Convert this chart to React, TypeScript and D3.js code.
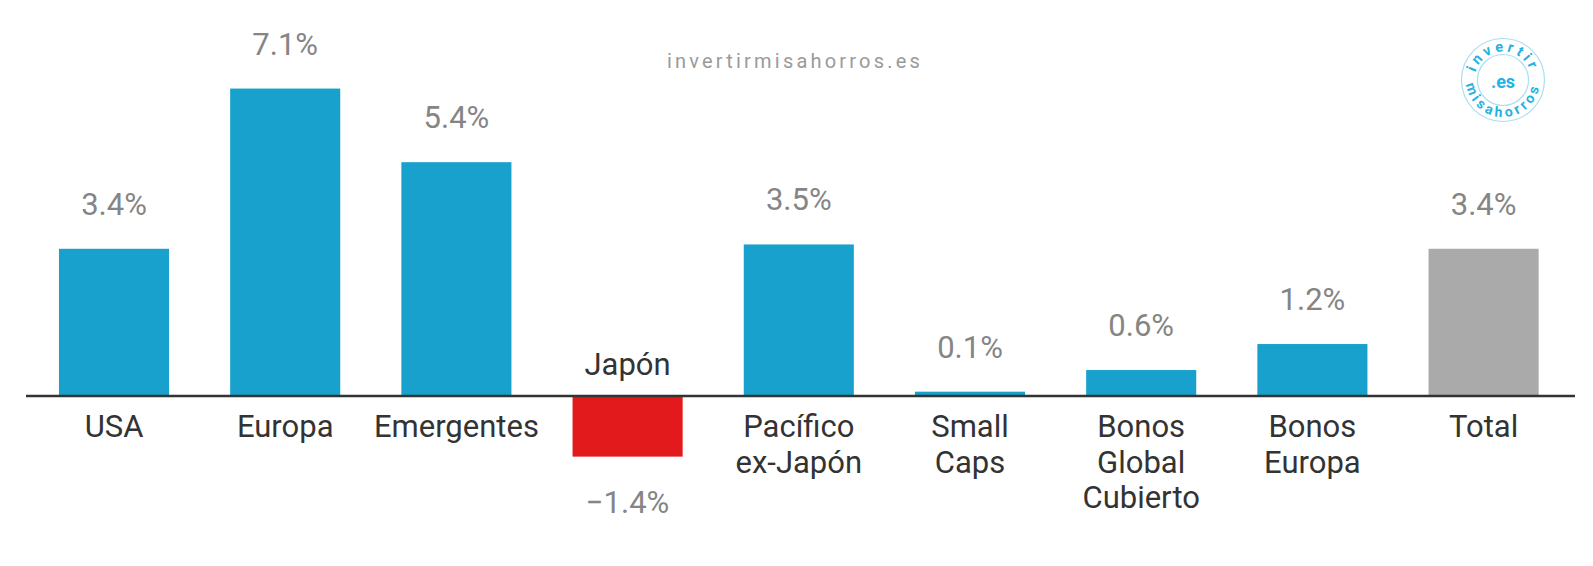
import React from "react";
import * as d3 from "d3";

const categories: string[] = ["USA", "Europa", "Emergentes", "Japón", "Pacífico ex-Japón", "Small Caps", "Bonos Global Cubierto", "Bonos Europa", "Total"];
const categoryLines: string[][] = [["USA"], ["Europa"], ["Emergentes"], ["Japón"], ["Pacífico", "ex-Japón"], ["Small", "Caps"], ["Bonos", "Global", "Cubierto"], ["Bonos", "Europa"], ["Total"]];
const values: number[] = [3.4, 7.1, 5.4, -1.4, 3.5, 0.1, 0.6, 1.2, 3.4];
const valueLabels: string[] = ["3.4%", "7.1%", "5.4%", "−1.4%", "3.5%", "0.1%", "0.6%", "1.2%", "3.4%"];
const watermark = "invertirmisahorros.es";

const W = 1593;
const H = 566;
const FONT = "Roboto, 'Noto Sans', sans-serif";

function barColor(cat: string, v: number): string {
  if (cat === "Total") return "#aaaaaa";
  if (v < 0) return "#e31a1c";
  return "#18a1cd";
}

export default function App() {
  const x = d3.scaleBand<string>().domain(categories).range([28.4, 1569.2]).paddingInner(0.357).paddingOuter(0.1785);
  const y = d3.scaleLinear().domain([-2, 8]).range([396 + 2 * 43.3, 396 - 8 * 43.3]);
  const y0 = y(0);

  const cx = 1503, cy = 80;
  const rTop = 28.5;
  const rBot = 37;
  const pt = (r: number, deg: number) => [cx + r * Math.cos((deg * Math.PI) / 180), cy + r * Math.sin((deg * Math.PI) / 180)];
  const [t1x, t1y] = pt(rTop, 150);
  const [t2x, t2y] = pt(rTop, 390);
  const topPath = `M${t1x},${t1y} A${rTop},${rTop} 0 1 1 ${t2x},${t2y}`;
  const [b1x, b1y] = pt(rBot, 210);
  const [b2x, b2y] = pt(rBot, -30);
  const botPath = `M${b1x},${b1y} A${rBot},${rBot} 0 1 0 ${b2x},${b2y}`;

  return (
    <svg width={W} height={H} style={{ position: "absolute", left: 0, top: 0, background: "#fff" }} fontFamily={FONT}>
      <rect x={0} y={0} width={W} height={H} fill="#ffffff" />
      <text x={795} y={68} textAnchor="middle" fontSize={20} letterSpacing={3.2} fill="#9a9a9a">{watermark}</text>

      {categories.map((c, i) => {
        const v = values[i];
        const bx = x(c)!;
        const top = Math.min(y(v), y0);
        const h = Math.abs(y(v) - y0);
        const mid = bx + x.bandwidth() / 2;
        return (
          <g key={c}>
            <rect x={bx} y={top} width={x.bandwidth()} height={h} fill={barColor(c, v)} />
            <text x={mid} y={v >= 0 ? y(v) - 34 : y(v) + 56} textAnchor="middle" fontSize={31} fill="#858585">{valueLabels[i]}</text>
            {v >= 0 ? (
              <text x={mid} y={y0 + 41} textAnchor="middle" fontSize={31} fill="#333333">
                {categoryLines[i].map((l, j) => (
                  <tspan key={j} x={mid} dy={j === 0 ? 0 : 35.5}>{l}</tspan>
                ))}
              </text>
            ) : (
              <text x={mid} y={y0 - 21} textAnchor="middle" fontSize={31} fill="#333333">{categoryLines[i].join(" ")}</text>
            )}
          </g>
        );
      })}
      <line x1={26} x2={1575} y1={y0} y2={y0} stroke="#333333" strokeWidth={2.5} />

      <g>
        <defs>
          <path id="logoTop" d={topPath} />
          <path id="logoBot" d={botPath} />
        </defs>
        <circle cx={cx} cy={cy} r={41.5} fill="none" stroke="#a9dff1" strokeWidth={1.2} />
        <circle cx={cx} cy={cy} r={25.5} fill="none" stroke="#a9dff1" strokeWidth={1.2} />
        <text x={cx} y={cy + 8} textAnchor="middle" fontSize={18} fontWeight="bold" fill="#22b2e3">.es</text>
        <text fontSize={14.5} fontWeight="bold" fill="#22b2e3" letterSpacing={3.4}>
          <textPath href="#logoTop" startOffset="50%" textAnchor="middle">invertir</textPath>
        </text>
        <text fontSize={14} fontWeight="bold" fill="#22b2e3" letterSpacing={3.6}>
          <textPath href="#logoBot" startOffset="50%" textAnchor="middle">misahorros</textPath>
        </text>
      </g>
    </svg>
  );
}
